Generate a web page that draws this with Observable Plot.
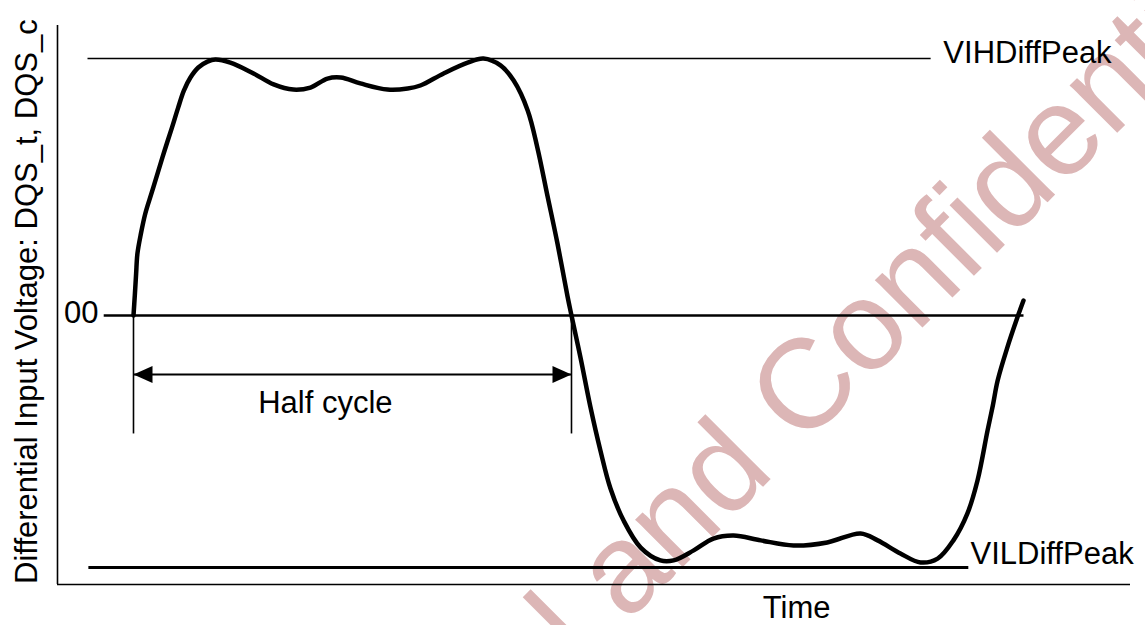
<!DOCTYPE html>
<html>
<head>
<meta charset="utf-8">
<script src="https://cdn.jsdelivr.net/npm/d3@7"></script>
<script src="https://cdn.jsdelivr.net/npm/@observablehq/plot@0.6"></script>
<style>
  html, body { margin: 0; padding: 0; background: #fff; }
  #chart svg { display: block; }
</style>
</head>
<body>
<div id="chart"></div>
<script>
// ---- Data (time in half-cycles, voltage normalised to VIHDiffPeak = 1) ----
const waveTime = [0, 0.003, 0.006, 0.009, 0.017, 0.027, 0.041, 0.055, 0.071, 0.088, 0.102, 0.115, 0.130, 0.148, 0.169, 0.187,
  0.221, 0.274, 0.320, 0.365, 0.404, 0.443, 0.473, 0.518, 0.580, 0.626, 0.655, 0.708, 0.763, 0.799, 0.838, 0.868, 0.900, 0.922,
  0.945, 0.968, 0.991, 1.000, 1.021, 1.043, 1.066, 1.089, 1.119, 1.158, 1.203, 1.233, 1.279, 1.324, 1.370, 1.432, 1.507, 1.584,
  1.660, 1.699, 1.751, 1.797, 1.836, 1.872, 1.904, 1.927, 1.950, 1.962, 1.973, 1.995, 2.018, 2.032];
const waveVolt = [0, 0.078, 0.163, 0.241, 0.319, 0.397, 0.475, 0.553, 0.642, 0.732, 0.809, 0.875, 0.926, 0.965, 0.988, 0.996,
  0.984, 0.942, 0.899, 0.879, 0.887, 0.922, 0.926, 0.903, 0.879, 0.883, 0.895, 0.942, 0.984, 1.000, 0.973, 0.914, 0.798, 0.654,
  0.467, 0.280, 0.074, 0, -0.167, -0.354, -0.525, -0.673, -0.798, -0.903, -0.953, -0.953, -0.914, -0.868, -0.856, -0.875, -0.895, -0.883,
  -0.848, -0.875, -0.926, -0.961, -0.946, -0.875, -0.770, -0.642, -0.447, -0.350, -0.253, -0.125, -0.008, 0.058];

const levelNames  = ["VIHDiffPeak", "00", "VILDiffPeak"];
const levelValues = [1.0, 0, -0.981];
const levelStart  = [-0.105, -0.068, -0.103];
const levelEnd    = [1.820, 2.032, 1.906];

const halfCycle = [0, 1];           // zero crossings (time)
const halfCycleLabel = "Half cycle";
const xLabel = "Time";
const yLabel = "Differential Input Voltage: DQS_t, DQS_c";
const watermark = "Internal and Confidential";

const timeDomain = [-0.1735, 2.2763];
const voltDomain = [-1.0467, 1.1284];

// ---- Derived tables ----
const wave = waveTime.map((t, i) => ({t, v: waveVolt[i]}));
const levels = levelNames.map((name, i) => ({name, v: levelValues[i], t1: levelStart[i], t2: levelEnd[i]}));

const font = "'Liberation Sans', Arial, Helvetica, sans-serif";
const fs = 31;
const arrowY = -0.2296;
const tickBottom = -0.459;

const headLeft = {draw(ctx) { ctx.moveTo(0, 0); ctx.lineTo(19, -8.5); ctx.lineTo(19, 8.5); ctx.closePath(); }};
const headRight = {draw(ctx) { ctx.moveTo(0, 0); ctx.lineTo(-19, -8.5); ctx.lineTo(-19, 8.5); ctx.closePath(); }};

const chart = Plot.plot({
  width: 1145,
  height: 625,
  marginLeft: 57,
  marginRight: 15,
  marginTop: 25,
  marginBottom: 41,
  style: {background: "white", fontFamily: font, fontSize: fs + "px", color: "black"},
  x: {domain: timeDomain, axis: null},
  y: {domain: voltDomain, axis: null},
  marks: [
    // watermark
    Plot.text([{t: 0.385, v: -2.46}], {x: "t", y: "v", text: () => watermark, rotate: -45,
      textAnchor: "start", lineAnchor: "bottom", fontSize: 127, fill: "#dcb6b6", fontFamily: font}),
    // axes lines
    Plot.ruleX([timeDomain[0]], {stroke: "black", strokeWidth: 1.6}),
    Plot.ruleY([voltDomain[0]], {stroke: "black", strokeWidth: 1.6}),
    // level lines
    Plot.link([levels[0]], {x1: "t1", x2: "t2", y1: "v", y2: "v", stroke: "black", strokeWidth: 1.6}),
    Plot.link([levels[1]], {x1: "t1", x2: "t2", y1: "v", y2: "v", stroke: "black", strokeWidth: 2.6}),
    Plot.link([levels[2]], {x1: "t1", x2: "t2", y1: "v", y2: "v", stroke: "black", strokeWidth: 3}),
    // half cycle ticks
    Plot.link(halfCycle, {x1: d => d, x2: d => d, y1: 0, y2: tickBottom, stroke: "black", strokeWidth: 1.6}),
    Plot.link([halfCycle], {x1: d => d[0], x2: d => d[1], y1: arrowY, y2: arrowY, stroke: "black", strokeWidth: 2}),
    Plot.dot([halfCycle[0]], {x: d => d, y: arrowY, symbol: headLeft, fill: "black", stroke: null}),
    Plot.dot([halfCycle[1]], {x: d => d, y: arrowY, symbol: headRight, fill: "black", stroke: null}),
    Plot.text([halfCycleLabel], {x: 0.438, y: -0.342, text: d => d, textAnchor: "middle", fontSize: fs, fill: "black"}),
    // waveform
    Plot.line(wave, {x: "t", y: "v", curve: "catmull-rom", stroke: "black", strokeWidth: 4.5, strokeLinejoin: "round"}),
    // level labels
    Plot.text([levels[0]], {x: 1.849, y: "v", text: "name", textAnchor: "start", dy: -5, fontSize: fs, fill: "black"}),
    Plot.text([levels[1]], {x: -0.080, y: "v", text: "name", textAnchor: "end", dy: -2, fontSize: fs, fill: "black"}),
    Plot.text([levels[2]], {x: 1.911, y: "v", text: "name", textAnchor: "start", dy: -14, fontSize: fs, fill: "black"}),
    // axis labels
    Plot.text([xLabel], {x: 1.514, y: -1.138, text: d => d, textAnchor: "middle", fontSize: fs, fill: "black"}),
    Plot.text([yLabel], {x: -0.242, y: 0.054, text: d => d, rotate: -90, textAnchor: "middle", fontSize: fs, fill: "black"})
  ]
});
document.getElementById("chart").appendChild(chart);
</script>
</body>
</html>
